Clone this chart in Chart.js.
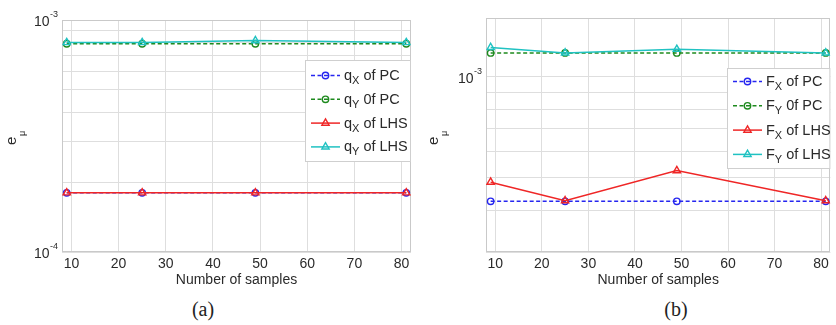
<!DOCTYPE html>
<html>
<head>
<meta charset="utf-8">
<script src="https://cdn.jsdelivr.net/npm/chart.js@4.4.0/dist/chart.umd.min.js"></script>
<style>
  html, body { margin: 0; padding: 0; background: #fff; }
  #page { position: relative; width: 836px; height: 325px; overflow: hidden; }
  .panel { position: absolute; top: 0; width: 418px; height: 295px; }
  .caption { position: absolute; top: 298px; line-height: 20px; font: 20px 'Liberation Serif', 'Times New Roman', serif; color: #222; transform: translateX(-50%); }
</style>
</head>
<body>
<div id="page">
  <div class="panel" style="left:0"><canvas id="chartA" width="418" height="295"></canvas></div>
  <div class="panel" style="left:418px"><canvas id="chartB" width="418" height="295"></canvas></div>
  <div class="caption" style="left:203px">(a)</div>
  <div class="caption" style="left:676px">(b)</div>
</div>
<script>
// sample counts and x tick positions
const samples = [9, 25, 49, 81];
const xTicks = [10, 20, 30, 40, 50, 60, 70, 80];

// panel (a): displacement mean error
const qxPC  = [1.8e-4, 1.8e-4, 1.8e-4, 1.8e-4];
const qyPC  = [7.9e-4, 7.9e-4, 7.9e-4, 7.9e-4];
const qxLHS = [1.8e-4, 1.8e-4, 1.8e-4, 1.8e-4];
const qyLHS = [8.0e-4, 8.0e-4, 8.15e-4, 8.0e-4];
const gridA = [1e-4, 2e-4, 3e-4, 4e-4, 5e-4, 6e-4, 7e-4, 8e-4, 9e-4, 1e-3];
const decadesA = [1e-4, 1e-3];
const expLabelsA = ['-4', '-3'];

// panel (b): force mean error
const fxPC  = [4.25e-4, 4.25e-4, 4.25e-4, 4.25e-4];
const fyPC  = [1.18e-3, 1.18e-3, 1.18e-3, 1.18e-3];
const fxLHS = [4.85e-4, 4.27e-4, 5.25e-4, 4.27e-4];
const fyLHS = [1.225e-3, 1.18e-3, 1.21e-3, 1.18e-3];
const gridB = [3e-4, 4e-4, 5e-4, 6e-4, 7e-4, 8e-4, 9e-4, 1e-3];
const decadesB = [1e-3];
const expLabelsB = ['-3'];

const FONT = "'Liberation Sans', Arial, sans-serif";
const TEXT = '#2a2a2a';
const GRID = '#dedede';
const FRAME = '#c9c9c9';

const styles = [
  { color: '#2626f0', dash: [4, 2.5], marker: 'circle',   order: 3 },
  { color: '#1e8a1e', dash: [4, 2.5], marker: 'circle',   order: 2 },
  { color: '#ef2626', dash: [],       marker: 'triangle', order: 1 },
  { color: '#20c2c2', dash: [],       marker: 'triangle', order: 0 }
];

function points(arr) {
  return samples.map((s, i) => ({ x: s, y: arr[i] }));
}

function drawMarker(ctx, kind, x, y) {
  ctx.beginPath();
  if (kind === 'circle') {
    ctx.arc(x, y, 3.2, 0, Math.PI * 2);
  } else {
    const r = 4.2;
    ctx.moveTo(x, y - r);
    ctx.lineTo(x + r * 0.866, y + r * 0.5);
    ctx.lineTo(x - r * 0.866, y + r * 0.5);
    ctx.closePath();
  }
  ctx.stroke();
}

function makeChart(id, cfg) {
  const datasets = cfg.series.map((arr, i) => ({
    data: points(arr),
    borderColor: styles[i].color,
    backgroundColor: 'rgba(0,0,0,0)',
    borderWidth: 1.5,
    borderDash: styles[i].dash,
    pointStyle: styles[i].marker,
    pointRadius: styles[i].marker === 'circle' ? 3.2 : 4.2,
    pointBorderWidth: 1.4,
    pointBorderColor: styles[i].color,
    pointBackgroundColor: 'rgba(0,0,0,0)',
    order: styles[i].order,
    tension: 0
  }));

  const decor = {
    id: 'decor',
    beforeDatasetsDraw(chart) {
      const { ctx, chartArea: a } = chart;
      ctx.save();
      ctx.strokeStyle = FRAME;
      ctx.lineWidth = 1;
      ctx.strokeRect(Math.round(a.left) + 0.5, Math.round(a.top) + 0.5,
        Math.round(a.right - a.left) - 1, Math.round(a.bottom - a.top) - 1);
      ctx.restore();
    },
    afterDraw(chart) {
      const { ctx, chartArea: a } = chart;
      const y = chart.scales.y;
      ctx.save();
      ctx.fillStyle = TEXT;

      // decade labels 10^n
      cfg.decades.forEach((v, i) => {
        const py = y.getPixelForValue(v);
        ctx.textAlign = 'right';
        ctx.textBaseline = 'alphabetic';
        ctx.font = '9px ' + FONT;
        ctx.fillText(cfg.expLabels[i], a.left - 4, py - 3);
        const ew = ctx.measureText(cfg.expLabels[i]).width;
        ctx.font = '14px ' + FONT;
        ctx.fillText('10', a.left - 4 - ew - 0.5, py + 6);
      });

      // y axis title e_mu, rotated
      ctx.save();
      ctx.translate(a.left + cfg.titleDx, 145);
      ctx.rotate(-Math.PI / 2);
      ctx.textAlign = 'left';
      ctx.textBaseline = 'alphabetic';
      ctx.font = '15px ' + FONT;
      ctx.fillText('e', 0, 0);
      ctx.font = '9px ' + FONT;
      ctx.fillText('\u03bc', 9, 9);
      ctx.restore();

      // legend box, anchored to the right edge of the plot
      const L = cfg.legend;
      const bx = Math.round(L.x) + 0.5, by = Math.round(L.y) + 0.5;
      const bw = a.right - L.x - 1, bh = L.h;
      ctx.fillStyle = '#fff';
      ctx.fillRect(bx, by, bw, bh);
      ctx.strokeStyle = '#cfcfcf';
      ctx.lineWidth = 1;
      ctx.strokeRect(bx, by, bw, bh);

      cfg.entries.forEach((e, i) => {
        const ly = L.y + L.first + i * L.step;
        const st = styles[i];
        ctx.strokeStyle = st.color;
        ctx.lineWidth = 1.5;
        ctx.setLineDash(st.dash);
        ctx.beginPath();
        ctx.moveTo(L.x + 6, ly);
        ctx.lineTo(L.x + 35, ly);
        ctx.stroke();
        ctx.setLineDash([]);
        ctx.lineWidth = 1.4;
        drawMarker(ctx, st.marker, L.x + 20.5, ly);

        let tx = L.x + 39;
        const base = ly + 4.5;
        ctx.fillStyle = TEXT;
        ctx.textAlign = 'left';
        ctx.font = '14.5px ' + FONT;
        ctx.fillText(e[0], tx, base);
        tx += ctx.measureText(e[0]).width;
        ctx.font = '11px ' + FONT;
        ctx.fillText(e[1], tx, base + 4);
        tx += ctx.measureText(e[1]).width;
        ctx.font = '14.5px ' + FONT;
        ctx.fillText(e[2], tx, base);
      });
      ctx.restore();
    }
  };

  return new Chart(document.getElementById(id), {
    type: 'line',
    data: { datasets },
    options: {
      responsive: false,
      animation: false,
      devicePixelRatio: 1,
      layout: { padding: { left: 0, top: cfg.top, right: cfg.right, bottom: 0 } },
      plugins: { legend: { display: false }, tooltip: { enabled: false } },
      scales: {
        x: {
          type: 'linear',
          min: 8,
          max: 82,
          afterBuildTicks: axis => { axis.ticks = xTicks.map(v => ({ value: v })); },
          afterFit: axis => { axis.height = 43; },
          grid: { color: GRID, drawTicks: false },
          border: { display: false },
          ticks: { padding: 4, color: TEXT, font: { family: FONT, size: 14 }, maxRotation: 0 },
          title: { display: true, text: 'Number of samples', color: TEXT,
                   font: { family: FONT, size: 14 }, padding: { top: 0, bottom: 6 } }
        },
        y: {
          type: 'logarithmic',
          min: cfg.yMin,
          max: cfg.yMax,
          afterBuildTicks: axis => { axis.ticks = cfg.grid.map(v => ({ value: v })); },
          afterFit: axis => { axis.width = cfg.left; },
          grid: { color: GRID, drawTicks: false },
          border: { display: false },
          ticks: { display: false }
        }
      }
    },
    plugins: [decor]
  });
}

makeChart('chartA', {
  series: [qxPC, qyPC, qxLHS, qyLHS],
  yMin: 1e-4, yMax: 1e-3,
  grid: gridA, decades: decadesA, expLabels: expLabelsA,
  left: 62, right: 7, top: 20, titleDx: -46.5,
  legend: { x: 305, y: 60, h: 101, first: 15.5, step: 23.8 },
  entries: [['q', 'X', ' of PC'], ['q', 'Y', ' 0f PC'], ['q', 'X', ' of LHS'], ['q', 'Y', ' of LHS']]
});

makeChart('chartB', {
  series: [fxPC, fyPC, fxLHS, fyLHS],
  yMin: 3e-4, yMax: 1.5e-3,
  grid: gridB, decades: decadesB, expLabels: expLabelsB,
  left: 68, right: 1, top: 18, titleDx: -48.5,
  legend: { x: 309, y: 68, h: 100, first: 13.5, step: 24.3 },
  entries: [['F', 'X', ' of PC'], ['F', 'Y', ' 0f PC'], ['F', 'X', ' of LHS'], ['F', 'Y', ' of LHS']]
});
</script>
</body>
</html>
